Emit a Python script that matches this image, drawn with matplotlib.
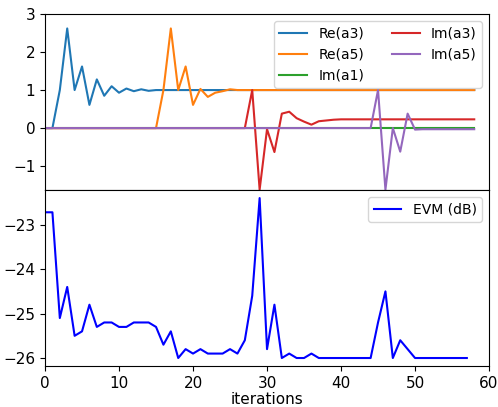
import matplotlib
matplotlib.use("Agg")
import matplotlib.pyplot as plt

# coefficient traces (top panel), one value per iteration 0..58
re_a3 = [0, 0, 1.0, 2.62, 1.0, 1.62, 0.61, 1.28, 0.85, 1.10, 0.93, 1.04, 0.97, 1.02, 0.98] + [1.0] * 44
re_a5 = [0] * 16 + [1.0, 2.62, 1.0, 1.62, 0.61, 1.03, 0.82, 0.93, 0.97, 1.02] + [1.0] * 33
im_a1 = [0.0] * 59
im_a3 = [0] * 28 + [1.0, -1.62, -0.03, -0.63, 0.38, 0.43, 0.26, 0.17, 0.09, 0.18, 0.20, 0.22] + [0.23] * 19
im_a5 = [0] * 45 + [1.0, -1.62, 0.0, -0.62, 0.38, -0.04] + [-0.03] * 8

# EVM in dB (bottom panel), iterations 0..57
evm = [-22.72, -22.72, -25.1, -24.4, -25.5, -25.4, -24.8, -25.3, -25.2, -25.2,
       -25.3, -25.3, -25.2, -25.2, -25.2, -25.3, -25.7, -25.4, -26.0, -25.8,
       -25.9, -25.8, -25.9, -25.9, -25.9, -25.8, -25.9, -25.6, -24.6, -22.4,
       -25.8, -24.8, -26.0, -25.9, -26.0, -26.0, -25.9, -26.0, -26.0, -26.0,
       -26.0, -26.0, -26.0, -26.0, -26.0, -25.2, -24.5, -26.0, -25.6, -25.8,
       -26.0, -26.0, -26.0, -26.0, -26.0, -26.0, -26.0, -26.0]

it_top = list(range(len(re_a3)))
it_evm = list(range(len(evm)))

fig = plt.figure(figsize=(4.98, 4.07), dpi=100)
ax1 = fig.add_axes([0.0904, 0.533, 0.8916, 0.4326])
ax2 = fig.add_axes([0.0904, 0.1007, 0.8916, 0.4323], sharex=ax1)

ax1.plot(it_top, re_a3, label="Re(a3)")
ax1.plot(it_top, re_a5, label="Re(a5)")
ax1.plot(it_top, im_a1, label="Im(a1)")
ax1.plot(it_top, im_a3, label="Im(a3)")
ax1.plot(it_top, im_a5, label="Im(a5)")
ax1.set_ylim(-1.63, 3)
ax1.set_yticks([-1, 0, 1, 2, 3])
ax1.tick_params(bottom=False, labelbottom=False, labelsize=11)
ax1.legend(loc="upper right", ncol=2, fontsize=10)

ax2.plot(it_evm, evm, color="blue", label="EVM (dB)")
ax2.set_xlim(0, 60)
ax2.tick_params(labelsize=11)
ax2.set_xlabel("iterations", fontsize=11, labelpad=1)
ax2.legend(loc="upper right", fontsize=10)

fig.savefig("out.png", dpi=100)
